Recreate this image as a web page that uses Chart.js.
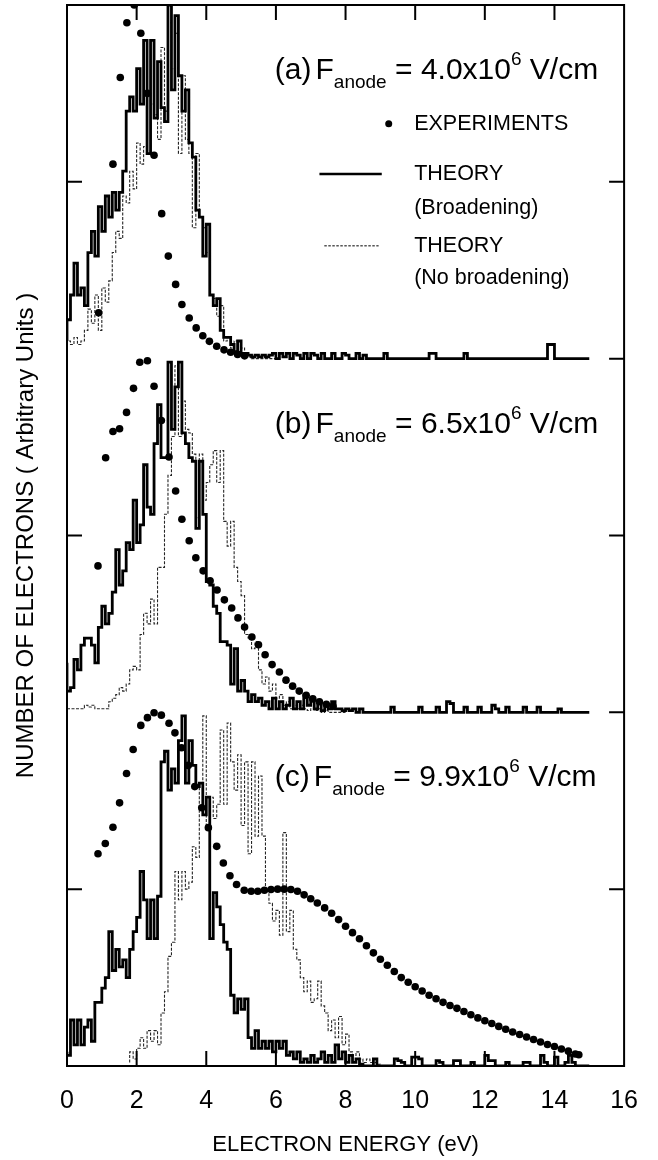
<!DOCTYPE html>
<html>
<head>
<meta charset="utf-8">
<title>Electron energy distributions</title>
<script src="https://cdn.jsdelivr.net/npm/chart.js@4.4.1/dist/chart.umd.min.js"></script>
<style>
  html, body { margin: 0; padding: 0; background: #fff; }
  canvas { display: block; }
</style>
</head>
<body>
<canvas id="graph-1" width="658" height="1160"></canvas>
<script>
// width of one histogram bin of the simulation (eV), bins start at 0 eV
const BIN = 0.1;

// (a) F_anode = 4.0x10^6 V/cm
const expEnergyA = [0.91, 1.32, 1.53, 1.72, 1.93, 2.12, 2.31, 2.50, 2.72, 2.91, 3.12, 3.30, 3.51, 3.71, 3.90, 4.09, 4.30, 4.51, 4.70, 4.90, 5.10];
const expCountA  = [13, 55, 79.5, 95, 100, 92, 75, 57.5, 41, 29, 21, 15.3, 11.5, 8.7, 6.5, 4.9, 3.5, 2.5, 1.8, 1.2, 0.8];
const broadA = [
  5, 11, 18, 27, 18, 20, 15, 30, 36, 29,
  43, 36, 46, 40, 47, 42, 47, 53, 70, 74,
  70, 82, 72, 90, 58, 90, 68, 84, 71, 67,
  100, 76, 97, 80, 70, 76, 61, 57, 42, 40,
  29, 38, 18, 15, 17, 8, 6, 6, 4, 2,
  5, 1.5, 1.5, 1, 0.5, 1, 0.5, 1, 0.5, 1,
  1.5, 0, 1.5, 0.5, 1.5, 0, 1.5, 1, 0, 1.5,
  0, 1.5, 1, 0, 1.5, 0, 0, 1.5, 0, 0,
  1.5, 1, 0, 0, 1.5, 0, 1, 0, 0, 0,
  0, 0, 1.5, 0, 0, 0, 0, 0, 0, 0,
  0, 0, 0, 0, 0, 1.5, 1.5, 0, 0, 0,
  0, 0, 0, 0, 0, 1.5, 0, 0, 0, 0,
  0, 0, 0, 0, 0, 0, 0, 0, 0, 0,
  0, 0, 0, 0, 0, 0, 0, 0, 0, 4,
  4, 0, 0, 0, 0, 0, 0, 0, 0, 0
];
const noBroadA = [
  3, 5, 4, 6, 4, 5, 8, 14, 10, 18,
  8, 20, 16, 22, 30, 36, 34, 46, 44, 53,
  48, 61, 55, 60, 58, 72, 69, 62, 88, 70,
  95, 82, 92, 58, 80, 62, 58, 37, 58, 40,
  37, 30, 18, 17, 12, 15, 5, 6, 3, 5,
  2, 3, 1, 0.5, 0, 0, 0, 0, 0, 0
];

// (b) F_anode = 6.5x10^6 V/cm
const expEnergyB = [0.89, 1.11, 1.32, 1.51, 1.71, 1.91, 2.09, 2.31, 2.50, 2.71, 2.93, 3.12, 3.30, 3.51, 3.70, 3.91, 4.11, 4.31, 4.52, 4.73, 4.91, 5.10, 5.31, 5.50, 5.69, 5.89, 6.10, 6.29, 6.48, 6.67, 6.87, 7.06, 7.25, 7.45, 7.64];
const expCountB  = [41.4, 72, 79.4, 80.2, 84.8, 91.6, 99, 99.4, 92.2, 82.5, 72.2, 62.6, 54.6, 48.5, 43.7, 40, 37.2, 34.6, 31.8, 29.5, 26.7, 24.1, 21.3, 19.1, 16.3, 13.5, 11.4, 9.1, 7.4, 6, 4.8, 3.8, 3, 2.3, 1.7];
const broadB = [
  14, 6, 7, 15, 12, 19, 21, 21, 19, 14,
  24, 30, 25, 28, 34, 46, 36, 40, 48, 46,
  60, 48, 53, 70, 58, 56, 76, 87, 72, 72,
  99, 80, 92, 99, 79, 76, 72, 71, 52, 71,
  56, 37, 36, 30, 28, 20, 20, 19, 8, 18,
  6, 9, 6, 3, 5, 3, 4, 2, 3, 1,
  4, 1, 3, 1, 2, 4, 1, 3, 1, 5,
  2, 4, 1, 3, 0.5, 2, 1, 3, 1, 1,
  0.5, 1, 0.5, 1, 0, 1, 0, 0, 0, 0,
  0, 0, 0, 0, 1.5, 0, 0, 0, 0, 0,
  0, 0, 1.5, 0, 0, 0, 0, 1.5, 0, 0,
  3, 2.5, 0, 0, 0, 1.5, 0, 0, 0, 1.5,
  0, 0, 0, 2, 1, 0, 0, 1.5, 0, 0,
  0, 0, 1.5, 0, 0, 0, 1.5, 0, 0, 0,
  0, 0, 1, 0, 0, 0, 0, 0, 0, 0
];
const noBroadB = [
  1, 1, 1, 1, 1, 1, 2, 1.5, 2, 1,
  1, 1, 1, 3, 4, 5, 7, 6, 8, 12,
  13, 12, 22, 28, 25, 32, 25, 41, 41, 56,
  67, 78, 98, 78, 88, 80, 79, 73, 55, 73,
  60, 65, 70, 74, 65, 74, 54, 47, 54, 41,
  37, 33, 22, 21, 18, 20, 12, 8, 10, 6,
  8, 4, 5, 2, 3, 1, 2, 1, 2, 1,
  0.5, 1, 0.5, 1, 0, 0.5, 0, 0, 0, 0
];

// (c) F_anode = 9.9x10^6 V/cm
const expEnergyC = [0.89, 1.10, 1.32, 1.51, 1.71, 1.90, 2.12, 2.31, 2.50, 2.71, 2.93, 3.10, 3.29, 3.48, 3.67, 3.87, 4.06, 4.30, 4.49, 4.68, 4.87, 5.09, 5.29, 5.48, 5.67, 5.86, 6.05, 6.24, 6.43, 6.62, 6.81, 7.00, 7.19, 7.40, 7.60, 7.80, 8.00, 8.20, 8.40, 8.60, 8.80, 9.00, 9.20, 9.40, 9.60, 9.80, 10.00, 10.20, 10.40, 10.60, 10.80, 11.00, 11.20, 11.40, 11.60, 11.80, 12.00, 12.20, 12.40, 12.60, 12.80, 13.00, 13.20, 13.40, 13.60, 13.80, 14.00, 14.20, 14.40, 14.60, 14.70];
const expCountC  = [60, 62.9, 67.5, 74.4, 82.7, 89.5, 96.3, 98.5, 99.9, 99.2, 96.9, 94.2, 90, 85, 79, 73, 67.4, 62.1, 57.4, 53.8, 51.3, 49.7, 49.4, 49.4, 49.7, 49.9, 50, 50, 49.9, 49.4, 48.4, 47.3, 46.1, 44.7, 43.2, 41.4, 39.5, 37.7, 36, 34, 32, 30.2, 28.5, 26.7, 25, 23.7, 22.4, 21.2, 20, 19, 18, 17.1, 16.3, 15.4, 14.5, 13.6, 12.8, 12, 11.2, 10.4, 9.6, 8.9, 8.2, 7.5, 6.8, 6.1, 5.5, 4.8, 4.2, 3.4, 3.2];
const broadC = [
  4, 3, 13, 6, 13, 6, 11, 13, 7, 18,
  18, 22, 25, 38, 27, 33, 28, 30, 25, 33,
  38, 42, 55, 47, 36, 47, 36, 48, 86, 89,
  78, 84, 80, 92, 99, 80, 92, 85, 79, 80,
  71, 76, 36, 49, 45, 40, 35, 33, 20, 15,
  19, 16, 19, 8, 5, 10, 5, 7, 5, 7,
  4, 7, 5, 7, 3, 4, 2, 4, 1, 2,
  1, 3, 1, 2, 4, 1, 3, 1, 6, 2,
  4, 1, 3, 1, 2, 0.5, 0, 0, 0, 2,
  0, 0, 0, 0, 0, 2, 1.5, 1, 0, 0,
  2.5, 2.5, 2, 0, 0, 0, 0, 1.5, 1, 0,
  0, 0, 1.5, 1.5, 0, 0, 0, 1, 0, 0,
  0, 3, 1.5, 1.5, 0, 0, 0, 1, 0, 0,
  0, 0, 1, 1, 0, 0, 0, 3, 1, 0,
  0, 2.5, 0, 0, 1, 3, 1, 0, 0, 0
];
const noBroadC = [
  null, null, null, null, null, null, null, null, null, null,
  null, null, null, null, null, null, null, null, 1, 4,
  2, 5, 8, 5, 10, 7, 10, 6, 15, 21,
  31, 35, 55, 47, 55, 50, 52, 62, 59, 80,
  99, 68, 76, 70, 74, 95, 74, 97, 86, 78,
  88, 68, 86, 60, 86, 65, 82, 65, 50, 46,
  41, 44, 37, 66, 38, 44, 33, 30, 25, 21,
  24, 18, 19, 24, 17, 15, 10, 13, 8, 14,
  6, 9, 4, 3, 4, 2, 1, 2, 1, 1,
  0.5, 0, 0
];

const xTicks = [0, 2, 4, 6, 8, 10, 12, 14, 16];
const panelTags = ['(a)', '(b)', '(c)'];
const fieldValues = ['4.0', '6.5', '9.9'];

const FONT = '"Liberation Sans", Arial, Helvetica, sans-serif';
const PANEL = 100;            // height of one panel in y units
const offsets = [200, 100, 0]; // panel a on top, c at the bottom

function histogram(values, offset, dashed) {
  const pts = values.map((v, i) => ({ x: i * BIN, y: v === null ? null : v + offset }));
  pts.push({ x: values.length * BIN, y: values[values.length - 1] + offset });
  return {
    data: pts,
    showLine: true,
    stepped: 'after',
    spanGaps: false,
    pointRadius: 0,
    borderColor: dashed ? '#262626' : '#000',
    borderWidth: dashed ? 1.1 : 2.8,
    borderDash: dashed ? [3, 1.5] : [],
    borderCapStyle: 'butt',
    borderJoinStyle: 'miter',
    order: dashed ? 3 : 2
  };
}

function experiment(energies, counts, offset) {
  return {
    data: energies.map((e, i) => ({ x: e, y: counts[i] + offset })),
    showLine: false,
    pointRadius: 3.8,
    pointBackgroundColor: '#000',
    pointBorderWidth: 0,
    order: 1
  };
}

const datasets = [
  histogram(noBroadA, offsets[0], true),
  histogram(broadA, offsets[0], false),
  experiment(expEnergyA, expCountA, offsets[0]),
  histogram(noBroadB, offsets[1], true),
  histogram(broadB, offsets[1], false),
  experiment(expEnergyB, expCountB, offsets[1]),
  histogram(noBroadC, offsets[2], true),
  histogram(broadC, offsets[2], false),
  experiment(expEnergyC, expCountC, offsets[2])
];

// frame, inward ticks, panel captions and the legend block of panel (a)
const frameAndText = {
  id: 'frameAndText',
  afterDatasetsDraw(chart) {
    const { ctx, chartArea: a, scales: { x, y } } = chart;
    const T = 15;
    ctx.save();
    ctx.strokeStyle = '#000';
    ctx.lineWidth = 2;
    ctx.strokeRect(a.left, a.top, a.right - a.left, a.bottom - a.top);
    ctx.beginPath();
    xTicks.slice(1, -1).forEach(v => {
      const px = x.getPixelForValue(v);
      ctx.moveTo(px, a.top); ctx.lineTo(px, a.top + T);
      ctx.moveTo(px, a.bottom); ctx.lineTo(px, a.bottom - T);
    });
    offsets.forEach(o => {
      const mid = y.getPixelForValue(o + PANEL / 2);
      ctx.moveTo(a.left, mid); ctx.lineTo(a.left + T, mid);
      ctx.moveTo(a.right, mid); ctx.lineTo(a.right - T, mid);
      if (o > 0) {
        const b = y.getPixelForValue(o);
        ctx.moveTo(a.right, b); ctx.lineTo(a.right - T, b);
      }
    });
    ctx.stroke();

    // captions: (a)F_anode = 4.0x10^6 V/cm
    ctx.fillStyle = '#000';
    ctx.textBaseline = 'alphabetic';
    const big = '30px ' + FONT, small = '19px ' + FONT;
    offsets.forEach((o, k) => {
      let cx = x.getPixelForValue(5.97);
      const by = y.getPixelForValue(o + 79.1);
      const put = (s, font, dy) => { ctx.font = font; ctx.fillText(s, cx, by + dy); cx += ctx.measureText(s).width; };
      put(panelTags[k], big, 0);
      cx += 4;
      put('F', big, 0);
      put('anode', small, 9);
      put(' = ' + fieldValues[k] + 'x10', big, 0);
      put('6', small, -14);
      put(' V/cm', big, 0);
    });

    // legend
    ctx.font = '21.5px ' + FONT;
    ctx.textBaseline = 'middle';
    const tx = x.getPixelForValue(9.97);
    ctx.beginPath();
    ctx.arc(x.getPixelForValue(9.24), y.getPixelForValue(266.4), 3.5, 0, Math.PI * 2);
    ctx.fill();
    ctx.fillText('EXPERIMENTS', tx, y.getPixelForValue(266.4));
    ctx.fillText('THEORY', tx, y.getPixelForValue(252.2));
    ctx.fillText('(Broadening)', tx, y.getPixelForValue(242.6));
    ctx.fillText('THEORY', tx, y.getPixelForValue(231.9));
    ctx.fillText('(No broadening)', tx, y.getPixelForValue(222.8));

    ctx.lineWidth = 2.5;
    ctx.beginPath();
    ctx.moveTo(x.getPixelForValue(7.25), y.getPixelForValue(252.2));
    ctx.lineTo(x.getPixelForValue(9.04), y.getPixelForValue(252.2));
    ctx.stroke();
    ctx.lineWidth = 1;
    ctx.setLineDash([2.5, 1.5]);
    ctx.beginPath();
    ctx.moveTo(x.getPixelForValue(7.39), y.getPixelForValue(231.9));
    ctx.lineTo(x.getPixelForValue(8.95), y.getPixelForValue(231.9));
    ctx.stroke();
    ctx.restore();
  }
};

const config = {
  type: 'scatter',
  data: { datasets: datasets },
  options: {
    responsive: false,
    animation: false,
    events: [],
    layout: { padding: { top: 5, right: 28, left: 0, bottom: 0 } },
    plugins: { legend: { display: false }, tooltip: { enabled: false } },
    scales: {
      x: {
        type: 'linear',
        min: 0,
        max: 16,
        afterFit: s => { s.height = 94; },
        grid: { display: false, drawTicks: false },
        border: { display: false },
        ticks: { stepSize: 2, color: '#000', padding: 20, font: { size: 25, family: FONT } },
        title: {
          display: true,
          text: 'ELECTRON ENERGY (eV)',
          color: '#000',
          font: { size: 22, family: FONT },
          padding: { top: 0, bottom: 2 }
        }
      },
      y: {
        type: 'linear',
        min: 0,
        max: 300,
        afterFit: s => { s.width = 67; },
        grid: { display: false, drawTicks: false },
        border: { display: false },
        ticks: { display: false },
        title: {
          display: true,
          text: 'NUMBER OF ELECTRONS ( Arbitrary Units )',
          color: '#000',
          font: { size: 24, family: FONT },
          padding: { top: 12, bottom: 0 }
        }
      }
    }
  },
  plugins: [frameAndText]
};

const chart = new Chart(document.querySelector('#graph-1'), config);
</script>
</body>
</html>
